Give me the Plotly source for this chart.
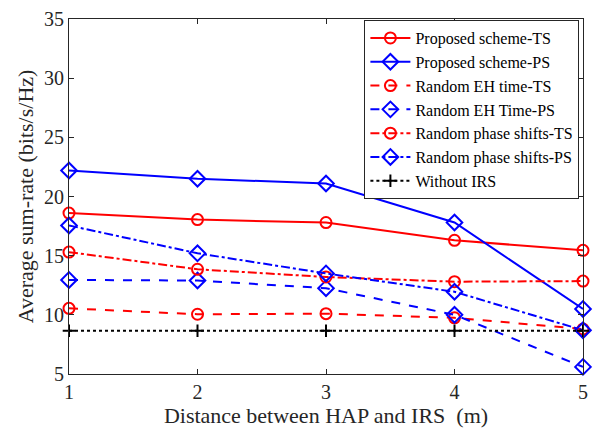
import plotly.graph_objects as go

distance = [1, 2, 3, 4, 5]
prop_ts = [18.6, 18.05, 17.8, 16.3, 15.45]
prop_ps = [22.2, 21.5, 21.1, 17.8, 10.5]
rand_eh_ts = [10.55, 10.05, 10.1, 9.75, 8.8]
rand_eh_ps = [12.95, 12.9, 12.25, 10.0, 5.6]
rand_ph_ts = [15.3, 13.85, 13.2, 12.8, 12.85]
rand_ph_ps = [17.55, 15.2, 13.5, 11.95, 8.7]
no_irs = [8.65, 8.65, 8.65, 8.65, 8.65]

series = [
    ("Proposed scheme-TS", prop_ts, "red", "solid", "circle-open"),
    ("Proposed scheme-PS", prop_ps, "blue", "solid", "diamond-open"),
    ("Random EH time-TS", rand_eh_ts, "red", "dash", "circle-open"),
    ("Random EH Time-PS", rand_eh_ps, "blue", "dash", "diamond-open"),
    ("Random phase shifts-TS", rand_ph_ts, "red", "dashdot", "circle-open"),
    ("Random phase shifts-PS", rand_ph_ps, "blue", "dashdot", "diamond-open"),
    ("Without IRS", no_irs, "black", "dot", "cross-thin-open"),
]

SERIF = "'Liberation Serif', 'Times New Roman', Times, serif"

fig = go.Figure()
for name, ys, col, dash, sym in series:
    fig.add_trace(go.Scatter(
        x=distance, y=ys, name=name, mode="lines+markers",
        line=dict(color=col, width=2, dash=dash),
        marker=dict(symbol=sym, size=11 if "circle" in sym else (12 if "diamond" in sym else 9),
                    color=col, line=dict(color=col, width=2)),
        cliponaxis=False,
    ))

axis_common = dict(
    showline=True, linecolor="#262626", linewidth=1, mirror="ticks",
    ticks="inside", ticklen=5, tickcolor="#262626", showgrid=False, zeroline=False,
    tickfont=dict(family=SERIF, size=20, color="#262626"),
)
fig.update_layout(
    width=596, height=435,
    margin=dict(l=69, r=8, t=13, b=61),
    paper_bgcolor="white", plot_bgcolor="white",
    font=dict(family=SERIF, color="#262626"),
    xaxis=dict(range=[1, 5], tickvals=[1, 2, 3, 4, 5],
               title=dict(text="Distance between HAP and IRS  (m)", font=dict(family=SERIF, size=22, color="#262626"), standoff=4),
               **axis_common),
    yaxis=dict(range=[5, 35], tickvals=[5, 10, 15, 20, 25, 30, 35],
               title=dict(text="Average sum-rate (bits/s/Hz)", font=dict(family=SERIF, size=22, color="#262626"), standoff=4),
               **axis_common),
    legend=dict(x=0.993, y=0.997, xanchor="right", yanchor="top",
                bordercolor="#262626", borderwidth=1, bgcolor="white",
                font=dict(family=SERIF, size=16, color="black"),
                tracegroupgap=0, itemwidth=40),
    showlegend=True,
)
fig.write_html("out.html")
